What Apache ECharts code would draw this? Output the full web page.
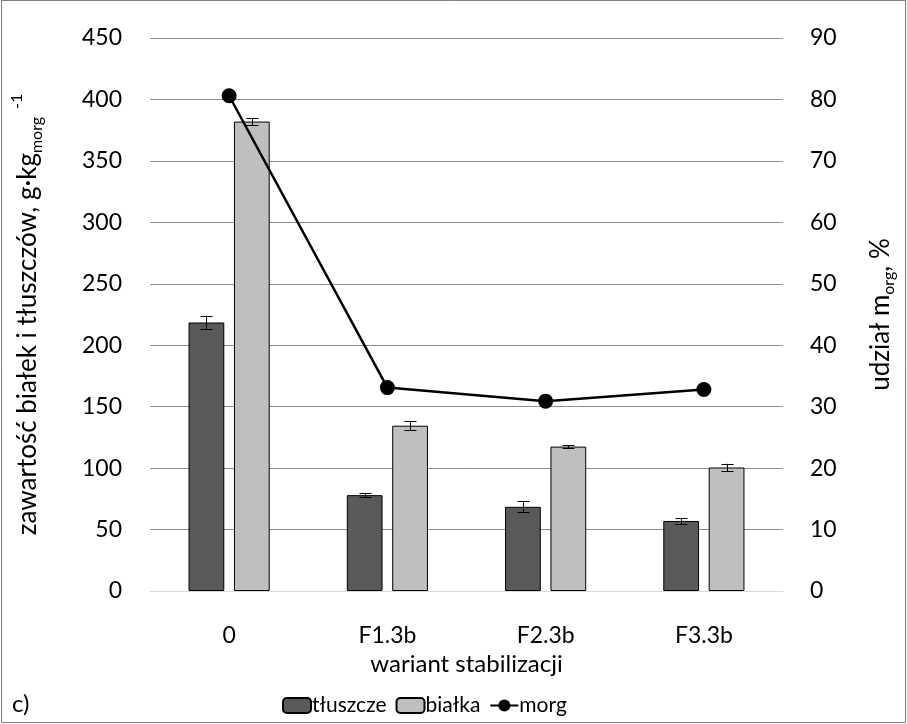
<!DOCTYPE html>
<html>
<head>
<meta charset="utf-8">
<script src="https://cdn.jsdelivr.net/npm/echarts@6/dist/echarts.min.js"></script>
<style>
  html, body { margin: 0; padding: 0; background: #fff; }
  #chart { width: 907px; height: 724px; }
</style>
</head>
<body>
<div id="chart"></div>
<script>
// Stabilisation variants on the category axis
const categories = ['0', 'F1.3b', 'F2.3b', 'F3.3b'];

// Fat and protein content, g per kg of organic matter, with error half-widths
const fats = [218.5, 78, 68.5, 57];
const fatsErr = [5.5, 1.6, 4.5, 2.5];
const proteins = [382, 134.5, 117.5, 100.5];
const proteinsErr = [3, 3.8, 1, 3];

// Share of organic matter, %
const morg = [80.6, 33.1, 30.9, 32.8];

// Axis ticks
const leftTicks = { min: 0, max: 450, interval: 50 };
const rightTicks = { min: 0, max: 90, interval: 10 };

const FONT = 'Lato';
const FS = 23;      // tick labels
const FT = 24;      // x axis title
const FY = 26;      // y axis titles
const FL = 21;      // legend

const chart = echarts.init(document.getElementById('chart'), null, { renderer: 'canvas' });

// Bar geometry shared by bars and their error whiskers
const BAR_W = 0.226;   // fraction of category band
const BAR_GAP = 0.27;  // fraction of bar width

function errorSeries(name, values, errs, slot) {
  return {
    name: name + '_err',
    type: 'custom',
    yAxisIndex: 0,
    silent: true,
    z: 10,
    data: values.map((v, i) => [i, v, errs[i]]),
    renderItem: function (params, api) {
      const idx = api.value(0);
      const v = api.value(1);
      const e = api.value(2);
      const band = api.size([1, 0])[0];
      const bw = band * BAR_W;
      const gap = bw * BAR_GAP;
      const off = (slot === 0 ? -1 : 1) * (bw + gap) / 2;
      const hi = api.coord([idx, v + e]);
      const lo = api.coord([idx, v - e]);
      const x = Math.round(hi[0] + off) + 0.5;
      const cap = 6;
      const style = { stroke: '#000', lineWidth: 1 };
      return {
        type: 'group',
        children: [
          { type: 'line', shape: { x1: x, y1: hi[1], x2: x, y2: lo[1] }, style: style },
          { type: 'line', shape: { x1: x - cap, y1: Math.round(hi[1]) + 0.5, x2: x + cap, y2: Math.round(hi[1]) + 0.5 }, style: style },
          { type: 'line', shape: { x1: x - cap, y1: Math.round(lo[1]) + 0.5, x2: x + cap, y2: Math.round(lo[1]) + 0.5 }, style: style }
        ]
      };
    }
  };
}

const option = {
  animation: false,
  textStyle: { fontFamily: FONT },
  grid: { left: 150, right: 106, top: 38, bottom: 133, containLabel: false },
  graphic: [
    {
      type: 'rect',
      shape: { x: 1.5, y: 0.5, width: 904, height: 722 },
      style: { fill: 'none', stroke: '#7f7f7f', lineWidth: 1 },
      silent: true
    },
    {
      type: 'text',
      left: 12,
      top: 692,
      style: { text: 'c)', fontFamily: FONT, fontSize: FT, fill: '#000' }
    }
  ],
  legend: {
    left: 277,
    top: 690,
    itemWidth: 28,
    itemHeight: 15,
    itemGap: 9,
    data: ['tłuszcze', 'białka', 'morg'],
    textStyle: { fontFamily: FONT, fontSize: FL, color: '#000', padding: [0, 0, 0, -4] }
  },
  xAxis: {
    type: 'category',
    data: categories,
    axisLine: { show: true, lineStyle: { color: '#d9d9d9', width: 1 } },
    axisTick: { show: false },
    axisLabel: { color: '#000', fontFamily: FONT, fontSize: FS, margin: 33 },
    name: 'wariant stabilizacji',
    nameLocation: 'middle',
    nameGap: 59,
    nameTextStyle: { color: '#000', fontFamily: FONT, fontSize: FT }
  },
  yAxis: [
    {
      type: 'value',
      position: 'left',
      min: leftTicks.min,
      max: leftTicks.max,
      interval: leftTicks.interval,
      axisLine: { show: false },
      axisTick: { show: false },
      splitLine: { show: true, lineStyle: { color: '#8c8c8c', width: 1 } },
      axisLabel: { color: '#000', fontFamily: FONT, fontSize: FS, margin: 28 },
      name: '{m|zawartość białek i tłuszczów, g·kg}{sub|morg}{sup|-1}',
      nameLocation: 'middle',
      nameRotate: 90,
      nameGap: 103,
      nameTextStyle: {
        color: '#000',
        fontFamily: FONT,
        rich: {
          m: { fontFamily: FONT, fontSize: FY, lineHeight: 38, verticalAlign: 'middle', color: '#000' },
          sub: { fontFamily: FONT, fontSize: 16, lineHeight: 16, verticalAlign: 'bottom', color: '#000', padding: [0, 0, 2, 0] },
          sup: { fontFamily: FONT, fontSize: 16, lineHeight: 16, verticalAlign: 'top', color: '#000', padding: [0, 0, 0, 8] }
        }
      }
    },
    {
      type: 'value',
      position: 'right',
      min: rightTicks.min,
      max: rightTicks.max,
      interval: rightTicks.interval,
      axisLine: { show: false },
      axisTick: { show: false },
      splitLine: { show: false },
      axisLabel: { color: '#000', fontFamily: FONT, fontSize: FS, margin: 27 },
      name: '{m|udział m}{sub|org}{m|, %}',
      nameLocation: 'middle',
      nameRotate: 90,
      nameGap: 80,
      nameTextStyle: {
        color: '#000',
        fontFamily: FONT,
        rich: {
          m: { fontFamily: FONT, fontSize: FY, lineHeight: 36, verticalAlign: 'middle', color: '#000' },
          sub: { fontFamily: FONT, fontSize: 16, lineHeight: 16, verticalAlign: 'bottom', color: '#000', padding: [0, 0, 2, 0] }
        }
      }
    }
  ],
  series: [
    {
      name: 'tłuszcze',
      type: 'bar',
      yAxisIndex: 0,
      data: fats,
      barWidth: (BAR_W * 100) + '%',
      barGap: (BAR_GAP * 100) + '%',
      itemStyle: { color: '#595959', borderColor: '#000', borderWidth: 1 }
    },
    {
      name: 'białka',
      type: 'bar',
      yAxisIndex: 0,
      data: proteins,
      barWidth: (BAR_W * 100) + '%',
      barGap: (BAR_GAP * 100) + '%',
      itemStyle: { color: '#bfbfbf', borderColor: '#000', borderWidth: 1 }
    },
    errorSeries('tłuszcze', fats, fatsErr, 0),
    errorSeries('białka', proteins, proteinsErr, 1),
    {
      name: 'morg',
      type: 'line',
      yAxisIndex: 1,
      data: morg,
      z: 20,
      symbol: 'circle',
      symbolSize: 15,
      lineStyle: { color: '#000', width: 2.5 },
      itemStyle: { color: '#000' }
    }
  ]
};

chart.setOption(option);
</script>
</body>
</html>
